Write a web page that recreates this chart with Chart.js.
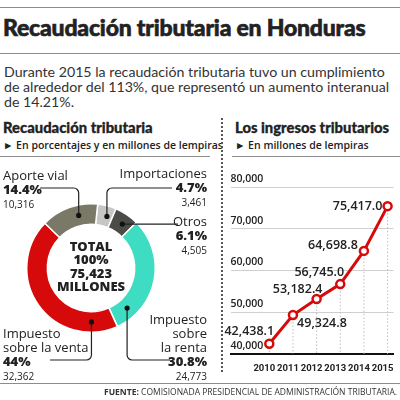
<!DOCTYPE html>
<html>
<head>
<meta charset="utf-8">
<script src="https://cdn.jsdelivr.net/npm/chart.js@4.4.0/dist/chart.umd.min.js"></script>
<style>
  html, body { margin: 0; padding: 0; background: #fff; }
  body { width: 400px; height: 400px; position: relative; overflow: hidden; font-family: 'Open Sans', sans-serif; color: #222; }
  .abs { position: absolute; white-space: nowrap; }
  .rule { position: absolute; height: 0; border-top: 1.5px solid #8c8c8c; }
  #title { left: 3px; top: 13px; font-family: Lato, sans-serif; font-size: 23px; font-weight: 900; letter-spacing: -0.2px; -webkit-text-stroke: 0.6px #222; }
  #intro { left: 4px; top: 64px; font-family: Lato, sans-serif; font-size: 14.2px; line-height: 15px; font-weight: 400; color: #333; }
  .sec { top: 118px; font-family: Lato, sans-serif; font-size: 14.8px; font-weight: 900; -webkit-text-stroke: 0.3px #222; }
  .sub { top: 138px; font-size: 10.5px; font-weight: 600; }
  #divider { position: absolute; left: 221px; top: 118px; height: 254px; border-left: 2px dotted #555; }
  .lab { position: absolute; white-space: nowrap; font-size: 13px; line-height: 14px; }
  .lab b { font-weight: 800; }
  .lab .v { font-size: 10px; }
  .right { text-align: right; }
  #center { position: absolute; left: 41px; width: 100px; top: 240px; text-align: center; font-size: 13px; line-height: 13.3px; font-weight: 800; }
  #footer { right: 3px; top: 386px; font-size: 8.5px; color: #333; }
  #footer b { font-weight: 700; }
  canvas { position: absolute; }
</style>
</head>
<body>
<div class="rule" style="left:0;width:400px;top:7px"></div>
<div id="title" class="abs">Recaudación tributaria en Honduras</div>
<div class="rule" style="left:0;width:400px;top:53px"></div>
<div id="intro" class="abs">Durante 2015 la recaudación tributaria tuvo un cumplimiento<br>de alrededor del 113%, que representó un aumento interanual<br>de 14.21%.</div>

<div class="abs sec" style="left:3px">Recaudación tributaria</div>
<div class="abs sub" style="left:3px">► En porcentajes y en millones de lempiras</div>
<div class="rule" style="left:0;width:210px;top:156px"></div>
<div id="divider"></div>
<div class="abs sec" style="left:235px">Los ingresos tributarios</div>
<div class="abs sub" style="left:235px">► En millones de lempiras</div>
<div class="rule" style="left:232px;width:168px;top:156px"></div>

<canvas id="donut" width="220" height="220" style="left:0;top:160px"></canvas>
<canvas id="line" width="176" height="220" style="left:224px;top:165px"></canvas>

<div id="center">TOTAL<br><span id="totalPct"></span><br><span id="totalVal"></span><br>MILLONES</div>

<div class="lab" style="left:3px;top:168px">Aporte vial<br><b class="p" data-i="4"></b><br><span class="v" data-i="4"></span></div>
<div class="lab right" style="right:193px;top:166px">Importaciones<br><b class="p" data-i="0"></b><br><span class="v" data-i="0"></span></div>
<div class="lab right" style="right:193px;top:214px">Otros<br><b class="p" data-i="1"></b><br><span class="v" data-i="1"></span></div>
<div class="lab right" style="right:193px;top:312px">Impuesto<br>sobre<br>la renta<br><b class="p" data-i="2"></b><br><span class="v" data-i="2"></span></div>
<div class="lab" style="left:3px;top:326px">Impuesto<br>sobre la venta<br><b class="p" data-i="3"></b><br><span class="v" data-i="3"></span></div>

<div class="rule" style="left:0;width:400px;top:383px"></div>
<div id="footer" class="abs"><b>FUENTE:</b> COMISIONADA PRESIDENCIAL DE ADMINISTRACIÓN TRIBUTARIA.</div>

<script>
// recaudación 2015 por rubro
const shareLabels = ['Importaciones', 'Otros', 'Impuesto sobre la renta', 'Impuesto sobre la venta', 'Aporte vial'];
const sharePercents = [4.7, 6.1, 30.8, 44, 14.4];
const shareMillions = [3461, 4505, 24773, 32362, 10316];
const totalPercent = 100;
const totalMillions = 75423;

// ingresos tributarios por año
const years = [2010, 2011, 2012, 2013, 2014, 2015];
const revenue = [42438.1, 49324.8, 53182.4, 56745.0, 64698.8, 75417.0];
const yTicks = [40000, 50000, 60000, 70000, 80000];

const sliceColors = ['#c6c6c4', '#4b4b47', '#3ddcc3', '#d60a0a', '#7a7867'];
const fmt = v => v.toLocaleString('en-US');

// textos de las etiquetas
document.getElementById('totalPct').textContent = totalPercent + '%';
document.getElementById('totalVal').textContent = fmt(totalMillions);
document.querySelectorAll('.lab .p').forEach(el => { el.textContent = sharePercents[+el.dataset.i] + '%'; });
document.querySelectorAll('.lab .v').forEach(el => { el.textContent = fmt(shareMillions[+el.dataset.i]); });

// líneas guía del anillo (coordenadas del canvas)
const dotFrac = [0.66, 0.57, 0.84, 0.15, 0.63];
const elbowY = [28, null, 200, 200, 28];
const endX = [172, 178, 170, 50, 40];

const leaderLines = {
  id: 'leaderLines',
  afterDraw(chart) {
    const ctx = chart.ctx;
    const meta = chart.getDatasetMeta(0);
    ctx.save();
    ctx.strokeStyle = '#222';
    ctx.fillStyle = '#111';
    ctx.lineWidth = 1.2;
    meta.data.forEach((arc, i) => {
      const p = arc.getProps(['x', 'y', 'startAngle', 'endAngle', 'innerRadius', 'outerRadius'], true);
      const a = p.startAngle + (p.endAngle - p.startAngle) * dotFrac[i];
      const r = (p.innerRadius + p.outerRadius) / 2;
      const px = p.x + Math.cos(a) * r;
      const py = p.y + Math.sin(a) * r;
      const ey = elbowY[i] === null ? py : elbowY[i];
      ctx.beginPath();
      ctx.moveTo(px, py);
      if (elbowY[i] !== null) ctx.arcTo(px, ey, endX[i], ey, 5);
      ctx.lineTo(endX[i], ey);
      ctx.stroke();
      ctx.beginPath();
      ctx.arc(px, py, 2.6, 0, Math.PI * 2);
      ctx.fill();
    });
    ctx.restore();
  }
};

new Chart(document.getElementById('donut'), {
  type: 'doughnut',
  data: {
    labels: shareLabels,
    datasets: [{
      data: sharePercents,
      backgroundColor: sliceColors,
      borderColor: '#fff',
      borderWidth: 1.5,
    }],
  },
  options: {
    responsive: false,
    animation: false,
    rotation: 6,
    cutout: '68%',
    layout: { padding: { left: 26, right: 64, top: 43, bottom: 47 } },
    plugins: { legend: { display: false }, tooltip: { enabled: false } },
  },
  plugins: [leaderLines],
});

// posición de las etiquetas de valor respecto a cada punto
const labelDx = [-20, 29, -19, -21, -31, -30];
const labelDy = [-12, 8, -10, -12, -5, 0];

const pointExtras = {
  id: 'pointExtras',
  beforeDatasetsDraw(chart) {
    const ctx = chart.ctx;
    const yScale = chart.scales.y;
    const base = yScale.getPixelForValue(yTicks[0]);
    ctx.save();
    ctx.strokeStyle = '#bdbdbd';
    ctx.lineWidth = 1;
    ctx.setLineDash([1.5, 2]);
    chart.getDatasetMeta(0).data.forEach(pt => {
      ctx.beginPath();
      ctx.moveTo(pt.x, pt.y);
      ctx.lineTo(pt.x, base);
      ctx.stroke();
    });
    ctx.restore();
  },
  afterDatasetsDraw(chart) {
    const ctx = chart.ctx;
    ctx.save();
    ctx.font = '600 12.5px "Open Sans"';
    ctx.fillStyle = '#222';
    ctx.textAlign = 'center';
    ctx.textBaseline = 'middle';
    chart.getDatasetMeta(0).data.forEach((pt, i) => {
      const txt = revenue[i].toLocaleString('en-US', { minimumFractionDigits: 1, maximumFractionDigits: 1 });
      ctx.fillText(txt, pt.x + labelDx[i], pt.y + labelDy[i]);
    });
    ctx.restore();
  }
};

new Chart(document.getElementById('line'), {
  type: 'line',
  data: {
    datasets: [{
      data: years.map((y, i) => ({ x: y, y: revenue[i] })),
      borderColor: '#d60a0a',
      borderWidth: 3,
      pointRadius: 4,
      pointBorderWidth: 2.5,
      pointBackgroundColor: '#fff',
      pointBorderColor: '#d60a0a',
      tension: 0,
    }],
  },
  options: {
    responsive: false,
    animation: false,
    layout: { padding: { left: 3, right: 5, top: 22, bottom: 1.6 } },
    plugins: { legend: { display: false }, tooltip: { enabled: false } },
    scales: {
      x: {
        type: 'linear',
        min: 2008.36,
        max: 2015.25,
        afterBuildTicks: axis => { axis.ticks = years.map(v => ({ value: v })); },
        afterFit: axis => { axis.paddingLeft = 0; axis.paddingRight = 0; },
        ticks: {
          callback: v => String(v),
          autoSkip: false,
          maxRotation: 0,
          padding: 9,
          labelOffset: -5,
          color: '#222',
          font: { family: 'Roboto', size: 9.5, weight: '700' },
        },
        grid: { display: false, drawTicks: false },
        border: { display: true, color: '#111', width: 2 },
      },
      y: {
        min: yTicks[0],
        max: yTicks[yTicks.length - 1],
        afterBuildTicks: axis => { axis.ticks = yTicks.map(v => ({ value: v })); },
        afterFit: axis => { axis.paddingTop = 0; axis.paddingBottom = 0; },
        ticks: {
          mirror: true,
          padding: 0,
          labelOffset: -8,
          callback: v => fmt(v),
          color: '#222',
          font: { family: 'Open Sans', size: 10.5, weight: '600' },
        },
        grid: { color: '#cfcfcf', lineWidth: 1, drawTicks: false },
        border: { display: false },
      },
    },
  },
  plugins: [pointExtras],
});
</script>
</body>
</html>
